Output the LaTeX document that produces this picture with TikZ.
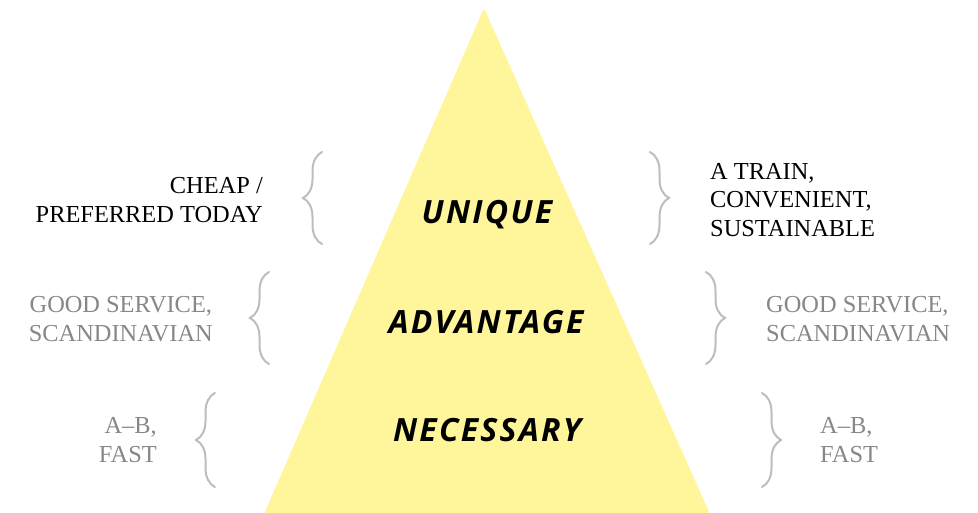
\documentclass[tikz,border=0pt]{standalone}
\usepackage{fontspec}
\setmainfont{Liberation Serif}
\newfontfamily\labelfont[LetterSpace=7]{Open Sans}
\usetikzlibrary{decorations.pathreplacing}
\definecolor{pyramid}{HTML}{FFF59A}
\definecolor{bracegray}{HTML}{BDBDBD}
\definecolor{notegray}{HTML}{878787}
\tikzset{
  x=1pt, y=1pt,
  level/.style={font=\labelfont\bfseries\itshape\fontsize{32}{38}\selectfont, inner sep=0},
  note/.style={font=\fontsize{24.4}{28.5}\selectfont, inner sep=0},
  bracket/.style={draw=bracegray, line width=2pt, line cap=round,
    decorate, decoration={brace, amplitude=19pt, aspect=0.5}}
}
\begin{document}
\begin{tikzpicture}
\useasboundingbox (0,0) rectangle (978,512);
% pyramid
\fill[pyramid, rounded corners=3pt] (264,-2) -- (484,504) -- (710,-2) -- cycle;
% level labels
\node[level] (unique) at (487,297) {UNIQUE};
\node[level] (advantage) at (486,190) {ADVANTAGE};
\node[level] (necessary) at (487,82) {NECESSARY};
% braces
\draw[bracket] (322,268) -- (322,360);
\draw[bracket] (650,360) -- (650,268);
\draw[bracket] (269,148) -- (269,240);
\draw[bracket] (706,240) -- (706,148);
\draw[bracket] (215,25) -- (215,119);
\draw[bracket] (762,119) -- (762,25);
% side notes
\node[note, align=right, anchor=east] (cheap) at (263,312) {CHEAP /\\PREFERRED TODAY};
\node[note, align=left, anchor=west] (train) at (710,312) {A TRAIN,\\CONVENIENT,\\SUSTAINABLE};
\node[note, text=notegray, align=center, anchor=east] (servL) at (213,193) {GOOD SERVICE,\\SCANDINAVIAN};
\node[note, text=notegray, align=left, anchor=west] (servR) at (766,193) {GOOD SERVICE,\\SCANDINAVIAN};
\node[note, text=notegray, align=right, anchor=east] (abL) at (157,72) {A--B,\\FAST};
\node[note, text=notegray, align=left, anchor=west] (abR) at (820,72) {A--B,\\FAST};
\end{tikzpicture}
\end{document}
